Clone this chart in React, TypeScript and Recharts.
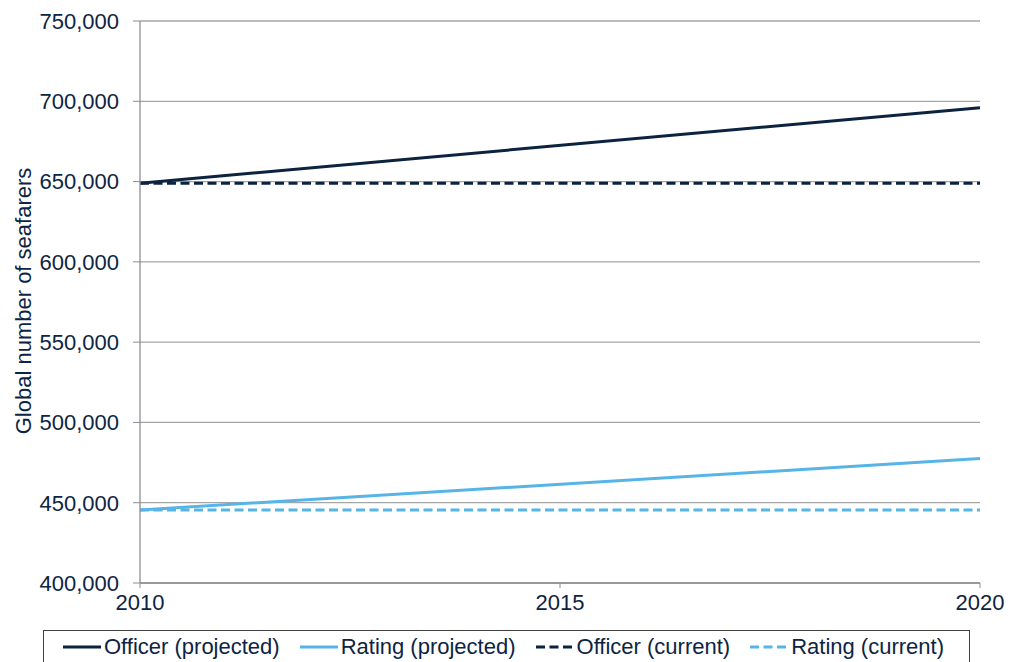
import React from 'react';
import { LineChart, Line, XAxis, YAxis, CartesianGrid, Legend, Label } from 'recharts';

const years = [2010, 2020];
const officerProjected = [649000, 696000];
const ratingProjected = [445500, 477500];
const officerCurrent = [649000, 649000];
const ratingCurrent = [445500, 445500];
const yTicks = [400000, 450000, 500000, 550000, 600000, 650000, 700000, 750000];
const xTicks = [2010, 2015, 2020];

const NAVY = '#0c2340';
const BLUE = '#56b5e6';
const TEXT = '#0d2444';
const FONT = '"Liberation Sans", Arial, sans-serif';

const chartData = years.map((year, i) => ({
  year,
  officerProjected: officerProjected[i],
  ratingProjected: ratingProjected[i],
  officerCurrent: officerCurrent[i],
  ratingCurrent: ratingCurrent[i],
}));

const legendItems = [
  { label: 'Officer (projected)', color: NAVY, dashed: false },
  { label: 'Rating (projected)', color: BLUE, dashed: false },
  { label: 'Officer (current)', color: NAVY, dashed: true },
  { label: 'Rating (current)', color: BLUE, dashed: true },
];

const LegendBox = () => (
  <div
    style={{
      boxSizing: 'border-box',
      width: 927,
      height: 32,
      border: '1px solid #404040',
      borderBottom: 'none',
      display: 'flex',
      flexWrap: 'nowrap',
      alignItems: 'center',
      paddingLeft: 19,
      fontFamily: FONT,
      fontSize: 22,
      lineHeight: '26px',
      color: TEXT,
      whiteSpace: 'nowrap',
    }}
  >
    {legendItems.map((item) => (
      <div key={item.label} style={{ display: 'flex', alignItems: 'center', marginRight: 20, flexShrink: 0 }}>
        <svg width={38} height={10} style={{ marginRight: 3 }}>
          <line
            x1={0}
            y1={5}
            x2={38}
            y2={5}
            stroke={item.color}
            strokeWidth={3}
            strokeDasharray={item.dashed ? '9 4.5' : undefined}
          />
        </svg>
        <span>{item.label}</span>
      </div>
    ))}
  </div>
);

const YTitle = () => (
  <text
    x={23}
    y={301}
    transform="rotate(-90 23 301)"
    textAnchor="middle"
    dominantBaseline="central"
    fill={TEXT}
    fontSize={22}
    fontFamily={FONT}
  >
    Global number of seafarers
  </text>
);

const formatThousands = (v: number) => v.toLocaleString('en-US');

export default function App() {
  return (
    <div style={{ position: 'absolute', left: 0, top: 0, width: 1016, height: 662, overflow: 'hidden', background: '#fff' }}>
      <LineChart
        width={1016}
        height={662}
        data={chartData}
        margin={{ top: 21, right: 36, bottom: 0, left: 0 }}
        style={{ fontFamily: FONT }}
      >
        <CartesianGrid horizontal vertical={false} stroke="#a6a6a6" strokeWidth={1.3} />
        <XAxis
          dataKey="year"
          type="number"
          domain={[2010, 2020]}
          ticks={xTicks}
          height={47}
          tickSize={5}
          tickMargin={6}
          stroke="#8c8c94"
          tick={{ fill: TEXT, fontSize: 22, fontFamily: FONT }}
          axisLine={{ stroke: '#8c8c94', strokeWidth: 1.3 }}
        />
        <YAxis
          type="number"
          domain={[400000, 750000]}
          ticks={yTicks}
          width={140}
          tickSize={7}
          tickMargin={14}
          tickFormatter={formatThousands}
          stroke="#8c8c94"
          tick={{ fill: TEXT, fontSize: 22, fontFamily: FONT }}
          axisLine={{ stroke: '#8c8c94', strokeWidth: 1.3 }}
        >
          <Label content={<YTitle />} />
        </YAxis>
        <Legend
          verticalAlign="bottom"
          content={<LegendBox />}
          wrapperStyle={{ left: 43, bottom: 0, width: 927, height: 32 }}
        />
        <Line dataKey="officerProjected" stroke={NAVY} strokeWidth={3} dot={false} isAnimationActive={false} />
        <Line dataKey="ratingProjected" stroke={BLUE} strokeWidth={3} dot={false} isAnimationActive={false} />
        <Line dataKey="officerCurrent" stroke={NAVY} strokeWidth={3} strokeDasharray="9 4.5" dot={false} isAnimationActive={false} />
        <Line dataKey="ratingCurrent" stroke={BLUE} strokeWidth={3} strokeDasharray="9 4.5" dot={false} isAnimationActive={false} />
      </LineChart>
    </div>
  );
}
